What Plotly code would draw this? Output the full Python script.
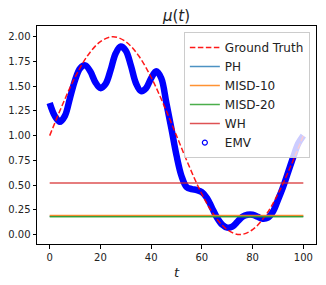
import plotly.graph_objects as go

# ---- data ----
gt_t = [0, 5, 10, 15, 20, 25, 30, 35, 40, 45, 50, 55, 60, 65, 70, 75, 80, 85, 90, 95, 100]
gt_v = [1.00, 1.31, 1.59, 1.81, 1.95, 2.00, 1.95, 1.81, 1.59, 1.31, 1.00,
        0.69, 0.41, 0.19, 0.05, 0.00, 0.05, 0.19, 0.41, 0.69, 1.00]

emv_t = [0, 2, 4, 6, 8, 10, 12, 14, 16, 18, 20, 22, 24, 26, 28, 30, 32, 34, 36, 38,
         40, 42, 44, 46, 48, 50, 52, 54, 56, 58, 60, 62, 64, 66, 68, 70, 72, 74, 76,
         78, 80, 82, 84, 86, 88, 90, 92, 94, 96, 98, 100]
emv_v = [1.33, 1.20, 1.14, 1.20, 1.38, 1.56, 1.68, 1.71, 1.65, 1.54, 1.48, 1.52,
         1.66, 1.83, 1.90, 1.86, 1.71, 1.53, 1.45, 1.48, 1.58, 1.65, 1.58, 1.33,
         1.07, 0.80, 0.59, 0.48, 0.46, 0.45, 0.43, 0.37, 0.27, 0.17, 0.10, 0.07,
         0.08, 0.13, 0.18, 0.20, 0.20, 0.18, 0.16, 0.17, 0.23, 0.35, 0.48, 0.63,
         0.78, 0.92, 1.00]

line_t = [0, 100]
ph_v = [0.186, 0.186]
misd10_v = [0.192, 0.192]
misd20_v = [0.180, 0.180]
wh_v = [0.522, 0.522]

x_ticks = [0, 20, 40, 60, 80, 100]
y_ticks = [0, 0.25, 0.5, 0.75, 1.0, 1.25, 1.5, 1.75, 2.0]

FONT = "DejaVu Sans"

fig = go.Figure()

# EMV band (drawn first, underneath)
fig.add_trace(go.Scatter(x=emv_t, y=emv_v, mode="lines", line=dict(color="#0000ff", width=6.5, shape="spline"),
                         showlegend=False, hoverinfo="skip"))
# EMV legend entry
fig.add_trace(go.Scatter(x=[None], y=[None], mode="markers", name="EMV", legendrank=6,
                         marker=dict(symbol="circle-open", color="#0000ff", size=5, line=dict(width=1.2))))

fig.add_trace(go.Scatter(x=gt_t, y=gt_v, mode="lines", name="Ground Truth", legendrank=1,
                         line=dict(color="rgba(255,0,0,0.9)", width=1.5, dash="5.5px,2.5px", shape="spline")))
fig.add_trace(go.Scatter(x=line_t, y=ph_v, mode="lines", name="PH", legendrank=2,
                         line=dict(color="rgba(31,119,180,0.8)", width=1.5)))
fig.add_trace(go.Scatter(x=line_t, y=misd10_v, mode="lines", name="MISD-10", legendrank=3,
                         line=dict(color="rgba(255,127,14,0.85)", width=1.5)))
fig.add_trace(go.Scatter(x=line_t, y=misd20_v, mode="lines", name="MISD-20", legendrank=4,
                         line=dict(color="rgba(44,160,44,0.85)", width=1.5)))
fig.add_trace(go.Scatter(x=line_t, y=wh_v, mode="lines", name="WH", legendrank=5,
                         line=dict(color="rgba(214,39,40,0.8)", width=1.5)))

axis_common = dict(showline=True, mirror=True, linecolor="black", linewidth=1,
                   ticks="outside", ticklen=3.5, tickcolor="black", tickwidth=1,
                   showgrid=False, zeroline=False,
                   tickfont=dict(family=FONT, size=10, color="#222"))

fig.update_xaxes(range=[-5, 105], tickvals=x_ticks, ticktext=[str(v) for v in x_ticks],
                 title=dict(text="<i>t</i>", font=dict(family=FONT, size=13, color="#222"), standoff=6),
                 **axis_common)
fig.update_yaxes(range=[-0.095, 2.108], tickvals=y_ticks, ticktext=[f"{v:.2f}" for v in y_ticks],
                 **axis_common)

fig.update_layout(
    width=326, height=285,
    margin=dict(l=37, r=10, t=26, b=41, autoexpand=False),
    paper_bgcolor="white", plot_bgcolor="white",
    title=dict(text="<i>μ</i>(<i>t</i>)", xref="paper", x=0.5, xanchor="center", y=0.945, yanchor="middle",
               font=dict(family=FONT, size=15, color="#222")),
    legend=dict(x=0.978, xanchor="right", y=0.972, yanchor="top",
                bgcolor="rgba(255,255,255,0.8)", bordercolor="#cccccc", borderwidth=1,
                font=dict(family=FONT, size=12, color="#222"), traceorder="normal",
                itemwidth=30),
    showlegend=True,
)

fig.write_html("out.html", config={"displayModeBar": False},
               post_script="document.body.style.margin='0';document.body.style.padding='0';")
